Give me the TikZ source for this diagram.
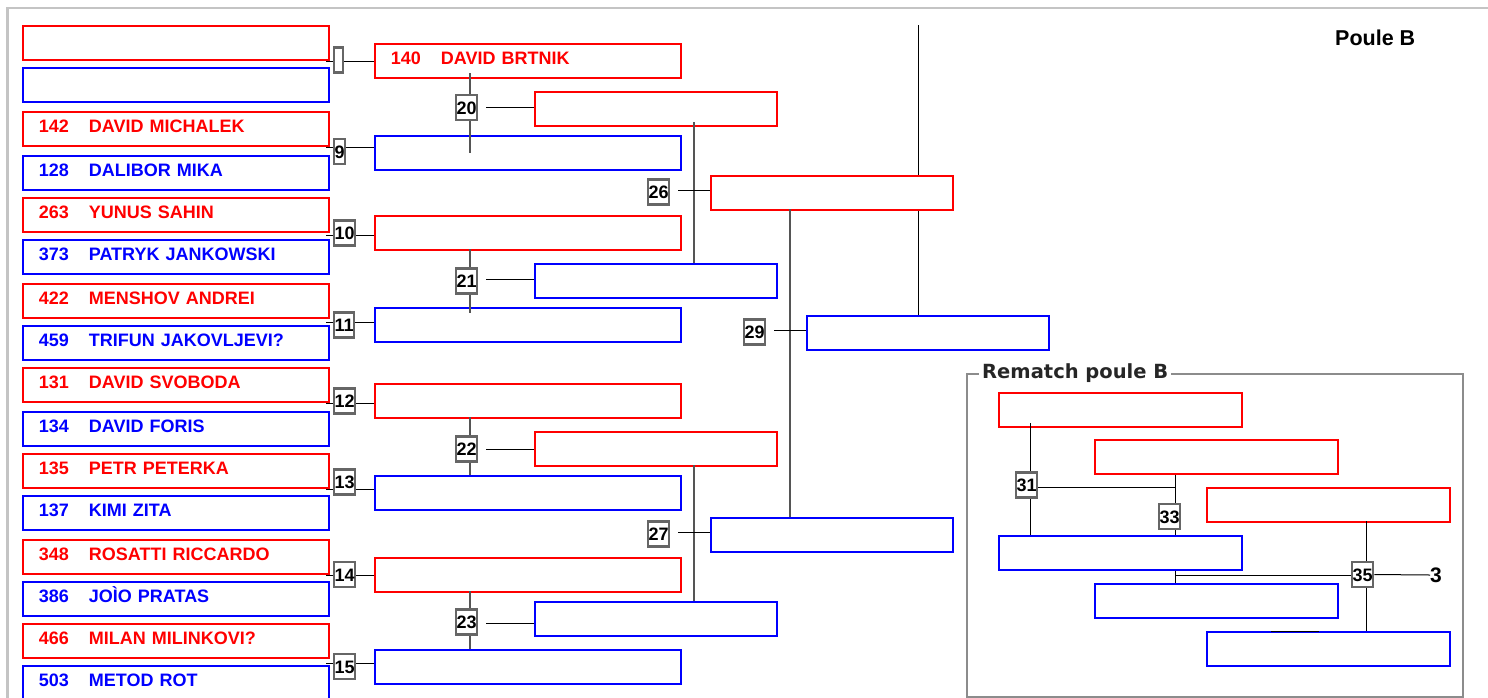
\documentclass[tikz,border=0pt]{standalone}
\usepackage{fontspec}
\setmainfont{Liberation Sans}
\newfontfamily\djvfont{DejaVu Sans}
\definecolor{lgray}{HTML}{666666}
\definecolor{vgray}{HTML}{555555}
\definecolor{fgray}{HTML}{C4C4C4}
\definecolor{rgray}{HTML}{8C8C8C}
\newcommand\namefont{\bfseries\fontsize{18}{18}\selectfont}
\newcommand\labfont{\bfseries\fontsize{18}{18}\selectfont}
\tikzset{
  anybox/.style={line width=1.8pt, fill=white, minimum height=34pt, inner xsep=16pt,
    inner ysep=0pt, anchor=north west, text height=12.9pt, text depth=6pt,
    font=\namefont, align=left, text width=#1},
  redbox/.style={anybox=#1, draw=red, text=red},
  bluebox/.style={anybox=#1, draw=blue, text=blue},
  mlab/.style={draw=lgray, line width=2.2pt, fill=white, font=\labfont, inner xsep=0.6pt,
    inner ysep=0pt, text height=13pt, text depth=0pt, minimum height=25pt, anchor=west},
  hln/.style={black, line width=1pt},
  vln/.style={vgray, line width=1.2pt}
}
\newcommand\pl[2]{\makebox[50pt][l]{#1}#2}
\begin{document}
\begin{tikzpicture}[x=1pt,y=-1pt]
\useasboundingbox (0,0) rectangle (1488,697);
\clip (0,0) rectangle (1488,697);
\draw[fgray, line width=2.5pt] (7.5,700) -- (7.5,8) -- (1490,8);

% round 1 boxes
\node[redbox=274pt]  (a1) at (22,25)  {};
\node[bluebox=274pt] (b1) at (22,67)  {};
\node[redbox=274pt]  (a2) at (22,111) {\pl{142}{DAVID MICHALEK}};
\node[bluebox=274pt] (b2) at (22,155) {\pl{128}{DALIBOR MIKA}};
\node[redbox=274pt]  (a3) at (22,197) {\pl{263}{YUNUS SAHIN}};
\node[bluebox=274pt] (b3) at (22,239) {\pl{373}{PATRYK JANKOWSKI}};
\node[redbox=274pt]  (a4) at (22,283) {\pl{422}{MENSHOV ANDREI}};
\node[bluebox=274pt] (b4) at (22,325) {\pl{459}{TRIFUN JAKOVLJEVI?}};
\node[redbox=274pt]  (a5) at (22,367) {\pl{131}{DAVID SVOBODA}};
\node[bluebox=274pt] (b5) at (22,411) {\pl{134}{DAVID FORIS}};
\node[redbox=274pt]  (a6) at (22,453) {\pl{135}{PETR PETERKA}};
\node[bluebox=274pt] (b6) at (22,495) {\pl{137}{KIMI ZITA}};
\node[redbox=274pt]  (a7) at (22,539) {\pl{348}{ROSATTI RICCARDO}};
\node[bluebox=274pt] (b7) at (22,581) {\pl{386}{JOÌO PRATAS}};
\node[redbox=274pt]  (a8) at (22,623) {\pl{466}{MILAN MILINKOVI?}};
\node[bluebox=274pt] (b8) at (22,665) {\pl{503}{METOD ROT}};

% round 2 boxes
\node[redbox=274pt]  (c1) at (374,43)  {\pl{140}{DAVID BRTNIK}};
\node[bluebox=274pt] (c2) at (374,135) {};
\node[redbox=274pt]  (c3) at (374,215) {};
\node[bluebox=274pt] (c4) at (374,307) {};
\node[redbox=274pt]  (c5) at (374,383) {};
\node[bluebox=274pt] (c6) at (374,475) {};
\node[redbox=274pt]  (c7) at (374,557) {};
\node[bluebox=274pt] (c8) at (374,649) {};

% round 3 boxes
\node[redbox=210pt]  (d1) at (534,91)  {};
\node[bluebox=210pt] (d2) at (534,263) {};
\node[redbox=210pt]  (d3) at (534,431) {};
\node[bluebox=210pt] (d4) at (534,601) {};

% round 4 and 5
\node[redbox=210pt]  (e1) at (710,175) {};
\node[bluebox=210pt] (e2) at (710,517) {};
\node[bluebox=210pt] (f1) at (806,315) {};

% line at 918 (behind e1)
\coordinate (t918) at (918,25);
\draw[hln] (t918) -- (t918 |- e1.north);
\draw[hln] (t918 |- e1.south) -- (t918 |- f1.north);

% round 1 connectors
\foreach \y/\n in {61/1,147/2,235/3,322/4,403/5,489/6,575/7,663/8}{
  \coordinate (s\n) at (326,\y);
  \draw[hln] (s\n) -- (s\n -| c\n.west);
}
% round 2 verticals
\coordinate (v1a) at (470,73);  \coordinate (v1b) at (470,153);
\coordinate (v2a) at (470,249); \coordinate (v2b) at (470,313);
\coordinate (v3a) at (470,417); \coordinate (v3b) at (470,475);
\coordinate (v4a) at (470,591); \coordinate (v4b) at (470,649);
\foreach \n in {1,2,3,4}{ \draw[vln] (v\n a) -- (v\n b); }
% round 2 horizontals
\foreach \y/\n in {107/1,279/2,449/3,623/4}{
  \coordinate (h\n) at (486,\y);
  \draw[hln] (h\n) -- (h\n -| d\n.west);
}
% round 3
\coordinate (w1a) at (694,122); \coordinate (w1b) at (694,263);
\coordinate (w2a) at (694,465); \coordinate (w2b) at (694,601);
\draw[vln] (w1a) -- (w1b);
\draw[vln] (w2a) -- (w2b);
\coordinate (q1) at (678,190);
\coordinate (q2) at (678,532);
\draw[hln] (q1) -- (q1 -| e1.west);
\draw[hln] (q2) -- (q2 -| e2.west);
% round 4
\coordinate (u29) at (790,209);
\draw[vln] (u29) -- (u29 |- e2.north);
\coordinate (p29) at (774,330);
\draw[hln] (p29) -- (p29 -| f1.west);

% labels round 1
\node[mlab, minimum width=9pt] (m8) at (333,60) {};
\node[mlab] (m9)  at (333,151.5) {9};
\node[mlab] (m10) at (333,233) {10};
\node[mlab] (m11) at (333,325) {11};
\node[mlab] (m12) at (333,401) {12};
\node[mlab] (m13) at (333,482) {13};
\node[mlab] (m14) at (333,574.5) {14};
\node[mlab] (m15) at (333,666.5) {15};
% labels round 2-4
\node[mlab] (m20) at (455,107.5) {20};
\node[mlab] (m21) at (455,281) {21};
\node[mlab] (m22) at (455,449) {22};
\node[mlab] (m23) at (455,622) {23};
\node[mlab] (m26) at (647,192) {26};
\node[mlab] (m27) at (647,534) {27};
\node[mlab] (m29) at (743,332) {29};

% Poule B
\node[anchor=west, inner sep=0pt, font=\bfseries\fontsize{21.5}{21.5}\selectfont,
  text height=15.4pt, text depth=0pt] (pb) at (1335,38) {Poule B};

% rematch frame
\draw[rgray, line width=2pt] (967,374) rectangle (1463,697);
\node[fill=white, inner xsep=3pt, inner ysep=1pt, anchor=west,
  font=\djvfont\bfseries\fontsize{19.5}{19.5}\selectfont, text=black!85] (rt) at (979,373.5) {Rematch poule B};

\node[redbox=211pt]  (g1) at (998,392)  {};
\node[redbox=211pt]  (g2) at (1094,439) {};
\node[redbox=211pt]  (g3) at (1206,487) {};
\node[bluebox=211pt] (g4) at (998,535)  {};
\node[bluebox=211pt] (g5) at (1094,583) {};
\node[bluebox=211pt] (g6) at (1206,631) {};

\coordinate (k1) at (1030,423);
\draw[hln] (k1) -- (k1 |- g4.north);
\coordinate (k2) at (1038,487);
\coordinate (k3) at (1175,487);
\draw[hln] (k2) -- (k3);
\draw[hln] (k3 |- g2.south) -- (k3 |- g4.north);
\draw[hln] (k3 |- g4.south) -- (k3 |- g5.north);
\coordinate (k4) at (1175,575.5);
\coordinate (k5) at (1366,521);
\draw[hln] (k5) -- (k5 |- g6.north);
\coordinate (k6) at (1271,631.5);
\coordinate (k7) at (1319,631.5);
\draw[black, line width=1.6pt] (k6) -- (k7);

\node[mlab] (m31) at (1015,485) {31};
\node[mlab] (m33) at (1158,516.5) {33};
\node[mlab] (m35) at (1351,574.5) {35};
\draw[hln] (k4) -- (k4 -| m35.west);
\node[anchor=west, inner sep=0pt, font=\bfseries\fontsize{21}{21}\selectfont,
  text height=15pt, text depth=0pt] (w3) at (1430,575) {3};
\draw[hln] (m35.east) -- (w3.west);
\end{tikzpicture}
\end{document}
